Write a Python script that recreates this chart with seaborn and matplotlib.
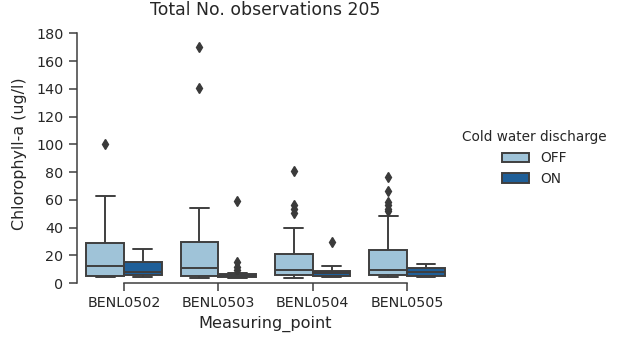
import matplotlib
matplotlib.use("Agg")
import matplotlib.pyplot as plt
import seaborn as sns
import pandas as pd

points = ["BENL0502", "BENL0503", "BENL0504", "BENL0505"]
states = ["OFF", "ON"]

b0502_off = [4.6, 4.7, 4.8, 4.8, 4.9, 4.9, 4.9, 5.0, 5.0, 5.0,
             5.5, 6.5, 7.5, 8.5, 9.5, 10.5, 11.5, 12.0, 12.5,
             14, 16, 18, 20, 22, 24, 26, 27.5, 28.6,
             31, 34, 37, 41, 45, 50, 56, 62.6, 100.5]
b0502_on = [4.5, 5.0, 5.4, 5.8, 6.5, 7.2, 8.0, 9.5, 12.0, 14.8, 17.0, 20.5, 24.5]
b0503_off = [3.8, 4.0, 4.2, 4.4, 4.5, 4.6, 4.7, 4.8, 4.9, 5.0,
             5.5, 6.0, 6.8, 7.5, 8.2, 9.0, 9.6, 10.0, 10.5,
             12, 14, 16.5, 19, 21.5, 24, 26.5, 28, 29.3,
             32, 35, 38, 42, 46, 50, 54.4, 140.5, 170.5]
b0503_on = [3.5, 3.8, 4.1, 4.3, 4.5, 4.6, 4.8, 5.0, 5.2, 5.3, 5.4,
            5.6, 5.9, 6.1, 6.3, 6.4, 7.5, 9.5, 11.7, 14.9, 59.5]
b0504_off = [3.8, 4.2, 4.5, 4.8, 5.0, 5.2, 5.4, 5.6, 5.8,
             6.2, 6.7, 7.2, 7.7, 8.2, 8.7, 9.1, 9.4,
             10.5, 12, 13.5, 15, 16.5, 18, 19.5, 20.6,
             24, 28, 33, 39.6, 50.8, 53.5, 56.1, 80.6]
b0504_on = [4.5, 4.8, 5.0, 5.3, 5.8, 6.4, 7.0, 7.5, 8.2, 8.9, 10.0, 12.5, 29.7]
b0505_off = [4.0, 4.3, 4.5, 4.7, 4.9, 5.0, 5.2, 5.4, 5.5, 5.7, 5.8,
             6.2, 6.6, 7.0, 7.4, 7.8, 8.2, 8.6, 9.0, 9.3, 9.6,
             11, 12.5, 14, 15.5, 17, 18.5, 20, 21.5, 23, 24.0,
             28, 33, 40, 48.4, 51.8, 53.7, 56.1, 58.5, 66.7, 76.8]
b0505_on = [4.1, 4.6, 5.0, 5.6, 7.5, 9.0, 10.0, 11.0, 12.0, 13.5]

groups = {
    ("BENL0502", "OFF"): b0502_off, ("BENL0502", "ON"): b0502_on,
    ("BENL0503", "OFF"): b0503_off, ("BENL0503", "ON"): b0503_on,
    ("BENL0504", "OFF"): b0504_off, ("BENL0504", "ON"): b0504_on,
    ("BENL0505", "OFF"): b0505_off, ("BENL0505", "ON"): b0505_on,
}
rows = []
for (p, s), vals in groups.items():
    for v in vals:
        rows.append({"Measuring_point": p, "Cold water discharge": s,
                     "Chlorophyll-a (ug/l)": v})
df = pd.DataFrame(rows)

sns.set_style("ticks")
plt.rcParams["font.family"] = ["DejaVu Sans"]

fig = plt.figure(figsize=(6.27, 3.44), dpi=100)
ax = fig.add_axes([0.1225, 0.1773, 0.602, 0.7497])

palette = {"OFF": "#9fc3d8", "ON": "#1f5f98"}
sns.boxplot(data=df, x="Measuring_point", y="Chlorophyll-a (ug/l)",
            hue="Cold water discharge", order=points, hue_order=states,
            palette=palette, saturation=1, linecolor="#3f3f3f", linewidth=1.4,
            flierprops=dict(marker="d", markersize=5,
                            markerfacecolor="#3a3a3a", markeredgecolor="#3a3a3a"),
            ax=ax)

ax.set_ylim(0, 186)
ax.set_yticks(range(0, 181, 20))
ax.set_title(f"Total No. observations {len(df)}", fontsize=12.4, pad=7)
ax.set_xlabel("Measuring_point", fontsize=11.6)
ax.set_ylabel("Chlorophyll-a (ug/l)", fontsize=11.4, labelpad=7)
ax.tick_params(axis="both", labelsize=10.3, length=6, width=1.1, color="#3f3f3f")
for sp in ax.spines.values():
    sp.set_linewidth(1.1)
    sp.set_color("#3f3f3f")
sns.despine(ax=ax, trim=True)

sns.move_legend(ax, "center", bbox_to_anchor=(0.852, 0.54),
                bbox_transform=fig.transFigure, frameon=False,
                title="Cold water discharge", fontsize=9.9, title_fontsize=9.8)

fig.savefig("out.png", dpi=100)
